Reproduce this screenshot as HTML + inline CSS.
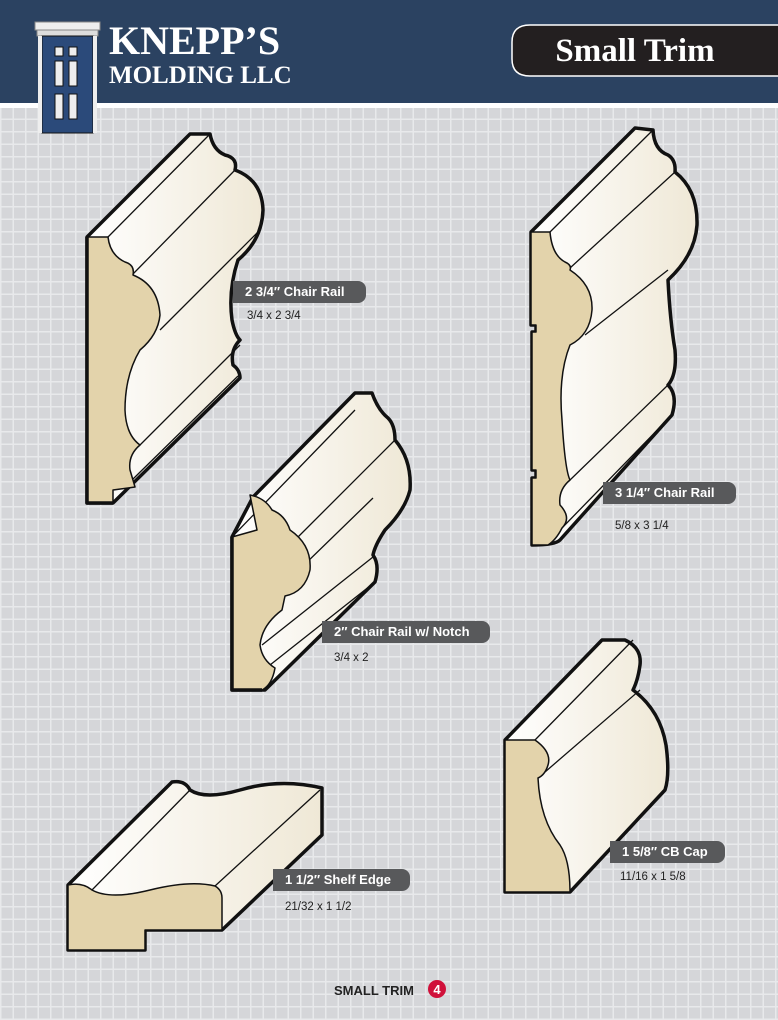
<!DOCTYPE html>
<html><head><meta charset="utf-8"><style>
html,body{margin:0;padding:0}
body{width:778px;height:1020px;position:relative;overflow:hidden;background-color:#d5d6d9;
background-image:repeating-linear-gradient(90deg,#e8e9eb 0 1.5px,transparent 1.5px 12.5px),repeating-linear-gradient(0deg,#e8e9eb 0 1.5px,transparent 1.5px 12.5px);font-family:"Liberation Sans",sans-serif}
svg{position:absolute;left:0;top:0}
.lab{position:absolute;background:#58595b;color:#fff;font-weight:bold;font-size:13px;height:22px;line-height:22px;padding-left:12px;border-radius:0 8px 8px 0;white-space:nowrap}
.sub{position:absolute;font-size:11.5px;color:#222}
</style></head><body>
<svg width="778" height="1020" viewBox="0 0 778 1020">
<defs>
<linearGradient id="g" x1="0" x2="1" y1="0" y2="0"><stop offset="0" stop-color="#fff"/><stop offset="1" stop-color="#efe8d6"/></linearGradient>
</defs>
<rect x="0" y="0" width="778" height="103" fill="#2b4261"/>
<rect x="0" y="103" width="778" height="5" fill="#fff"/>
<!-- door -->
<rect x="35" y="22" width="65" height="8" fill="#eee" stroke="#888" stroke-width="1"/>
<rect x="37" y="30" width="61" height="6" fill="#ddd" stroke="#888" stroke-width="1"/>
<rect x="38" y="36" width="59" height="97" fill="#bbb"/>
<rect x="42" y="36" width="51" height="97" fill="#2b4a7a" stroke="#111" stroke-width="1"/>
<rect x="38" y="36" width="4" height="97" fill="#eee"/><rect x="93" y="36" width="4" height="97" fill="#eee"/>
<rect x="55" y="47" width="8" height="9" fill="#eee" stroke="#111"/><rect x="69" y="47" width="8" height="9" fill="#eee" stroke="#111"/>
<rect x="55" y="61" width="8" height="25" fill="#eee" stroke="#111"/><rect x="69" y="61" width="8" height="25" fill="#eee" stroke="#111"/>
<rect x="55" y="94" width="8" height="25" fill="#eee" stroke="#111"/><rect x="69" y="94" width="8" height="25" fill="#eee" stroke="#111"/>
<text x="109" y="54" font-family="Liberation Serif,serif" font-weight="bold" font-size="40" fill="#fff">KNEPP’S</text>
<text x="109" y="83" font-family="Liberation Serif,serif" font-weight="bold" font-size="25" fill="#fff">MOLDING LLC</text>
<path d="M785 25 H530 Q512 25 512 42 V59 Q512 76 530 76 H785 Z" fill="#231f20" stroke="#fff" stroke-width="1.5"/>
<text x="635" y="61" text-anchor="middle" font-family="Liberation Serif,serif" font-weight="bold" font-size="33" fill="#fff">Small Trim</text>

<g stroke="#111" stroke-linejoin="round">
<!-- 1: 2 3/4 chair rail -->
<path d="M87 237 L190 134 L210 134 Q213 150 225 155 Q238 158 235 170 Q262 180 263 210 Q262 240 238 260 Q228 290 232 320 Q235 335 240 340 Q230 350 233 365 Q240 370 240 378 L113 503 L87 503 Z" fill="url(#g)" stroke-width="3.5"/>
<path d="M108 237 L210 134 M132 275 L235 170 M160 330 L258 232 M140 445 L240 345 M132 480 L238 376" fill="none" stroke-width="1.3"/>
<path d="M87 237 L108 237 Q110 255 125 262 Q135 265 133 275 Q158 285 160 315 Q158 335 140 350 Q125 375 125 410 Q126 435 140 445 Q128 455 130 470 Q133 480 135 487 L113 490 L113 503 L87 503 Z" fill="#e3d3ab" stroke-width="1.5"/>
<path d="M87 237 L87 503 L113 503" fill="none" stroke-width="3.5"/>

<!-- 3: 3 1/4 chair rail -->
<path d="M531 232 L635 128 L653 130 Q654 150 668 155 Q676 160 675 172 Q698 190 697 225 Q695 255 668 280 Q670 320 675 350 Q677 375 668 385 Q678 395 672 415 L560 540 Q555 545 532 545 L532 478 L536 478 L536 470 L532 470 L532 332 L536 332 L536 325 L531 325 Z" fill="url(#g)" stroke-width="3.5"/>
<path d="M550 232 L653 130 M570 268 L675 172 M585 335 L668 270 M570 480 L668 385 M560 530 L672 415" fill="none" stroke-width="1.3"/>
<path d="M531 232 L550 232 Q552 255 565 262 Q572 265 570 270 Q593 285 592 310 Q590 335 570 345 Q558 375 562 420 Q565 470 570 480 Q558 490 560 505 Q572 518 562 528 Q556 540 548 545 L532 545 L532 478 L536 478 L536 470 L532 470 L532 332 L536 332 L536 325 L531 325 Z" fill="#e3d3ab" stroke-width="1.5"/>

<!-- 2: 2" chair rail w/ notch -->
<path d="M232 537 L253 497 L355 393 L372 393 Q378 410 388 418 Q395 425 395 440 Q412 460 410 490 Q405 510 385 530 Q375 545 373 555 Q380 565 375 582 L265 690 L232 690 Z" fill="url(#g)" stroke-width="3.5"/>
<path d="M232 537 L355 410 M253 497 L355 393 M295 540 L395 440 M268 600 L373 498 M262 645 L373 557 M270 665 L375 582" fill="none" stroke-width="1.3"/>
<path d="M250 495 Q265 498 272 510 Q285 515 290 530 Q312 545 310 570 Q305 592 285 596 L282 610 Q262 625 260 645 Q262 660 275 668 Q272 685 262 690 L232 690 L232 537 L257 530 Z" fill="#e3d3ab" stroke-width="1.5"/>
<path d="M232 537 L232 690 L262 690" fill="none" stroke-width="3.5"/>

<!-- 4: CB cap -->
<path d="M505 740 L602 640 L625 640 Q642 648 640 665 Q638 680 633 690 Q660 710 666 745 Q670 775 665 790 L570 892 L505 892 Z" fill="url(#g)" stroke-width="3.5"/>
<path d="M535 740 L633 640 M545 772 L640 690" fill="none" stroke-width="1.3"/>
<path d="M505 740 L535 740 Q552 752 548 765 Q545 775 538 778 Q540 820 560 845 Q570 860 570 892 L505 892 Z" fill="#e3d3ab" stroke-width="1.5"/>

<!-- 5: shelf edge -->
<path d="M68 885 L172 782 Q185 780 190 790 Q205 800 240 790 Q280 778 322 788 L322 835 L222 930 L222 930 L145 930 L145 950 L68 950 Z" fill="url(#g)" stroke-width="3.5"/>
<path d="M92 890 L190 790 M215 886 L320 790" fill="none" stroke-width="1.3"/>
<path d="M68 885 Q82 882 92 890 Q110 900 150 890 Q190 880 215 886 Q222 890 222 898 L222 930 L145 930 L145 950 L68 950 Z" fill="#e3d3ab" stroke-width="1.5"/>
</g>
<!-- footer -->
<text x="334" y="995" font-size="13" font-weight="bold" fill="#222" font-family="Liberation Sans,sans-serif">SMALL TRIM</text>
<circle cx="437" cy="989" r="9" fill="#d0103a"/>
<text x="437" y="994" text-anchor="middle" font-size="13" font-weight="bold" fill="#fff" font-family="Liberation Sans,sans-serif">4</text>
</svg>
<div class="lab" style="left:233px;top:281px;width:121px">2 3/4″ Chair Rail</div>
<div class="sub" style="left:247px;top:310px">3/4 x 2 3/4</div>
<div class="lab" style="left:603px;top:482px;width:121px">3 1/4″ Chair Rail</div>
<div class="sub" style="left:615px;top:520px">5/8 x 3 1/4</div>
<div class="lab" style="left:322px;top:621px;width:156px">2″ Chair Rail w/ Notch</div>
<div class="sub" style="left:334px;top:652px">3/4 x 2</div>
<div class="lab" style="left:610px;top:841px;width:103px">1 5/8″ CB Cap</div>
<div class="sub" style="left:620px;top:871px">11/16 x 1 5/8</div>
<div class="lab" style="left:273px;top:869px;width:125px">1 1/2″ Shelf Edge</div>
<div class="sub" style="left:285px;top:901px">21/32 x 1 1/2</div>
</body></html>
